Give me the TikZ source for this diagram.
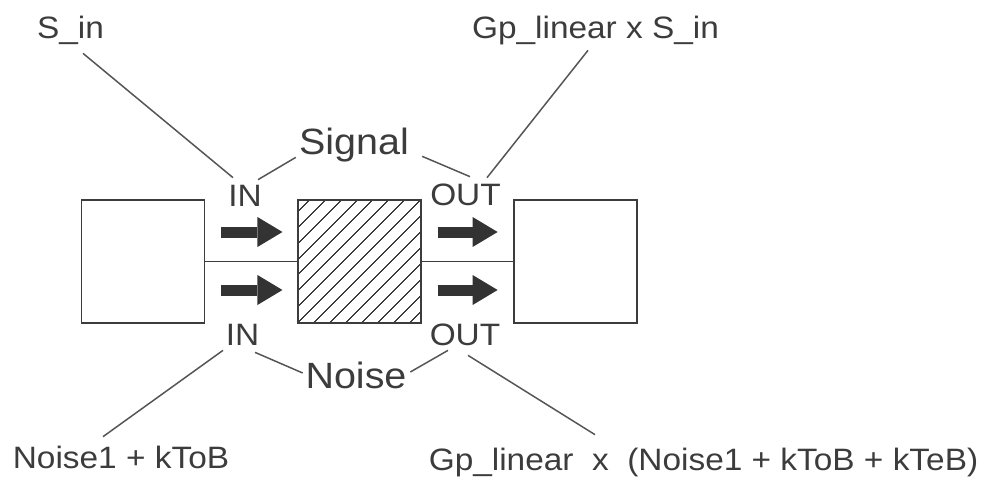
\documentclass[tikz,border=0pt]{standalone}
\usepackage{fontspec}
\setmainfont{Liberation Sans}[FakeStretch=1.08]
\usetikzlibrary{positioning, arrows.meta, calc, patterns.meta}
\definecolor{inkgray}{HTML}{3C3C3C}
\definecolor{linegray}{HTML}{555555}
\definecolor{arrowgray}{HTML}{333333}

\begin{document}
\begin{tikzpicture}[
		x=0.02cm, y=-0.02cm,
		plainbox/.style={rectangle, draw=inkgray, line width=1.1pt, minimum size=2.46cm, inner sep=0pt},
		hatchbox/.style={plainbox, pattern={Lines[angle=45, distance=6.4pt, line width=0.7pt]}, pattern color=inkgray},
		flow/.style={line width=0.22cm, draw=arrowgray, -{Triangle[length=0.5cm, width=0.6cm, line width=0pt]}},
		port/.style={font=\fontsize{17.6}{20}\selectfont, text=inkgray, inner sep=0pt, anchor=base,
			text height=0.44cm, text depth=0.1cm},
		kind/.style={port, font=\fontsize{20.8}{24}\selectfont, text height=0.52cm, text depth=0.18cm},
		lead/.style={draw=linegray, line width=0.85pt},
		link/.style={draw=inkgray, line width=1.1pt},
		]
		\useasboundingbox (0,0) rectangle (986,478);
		
		% Blocks: source, device, load
		\node[plainbox] (lbox) at (143,261.5) {};
		\node[hatchbox, right=1.84cm of lbox] (mbox) {};
		\node[plainbox, right=1.82cm of mbox] (rbox) {};
		
		\draw[link] (lbox.east) -- (mbox.west);
		\draw[link] (mbox.east) -- (rbox.west);
		
		% Flow arrows above and below the wires
		\draw[flow] ($(lbox.east)+(16,-29.5)$) -- ($(mbox.west)+(-15,-29.5)$);
		\draw[flow] ($(lbox.east)+(16,28.5)$)  -- ($(mbox.west)+(-15,28.5)$);
		\draw[flow] ($(mbox.east)+(16,-29.5)$) -- ($(rbox.west)+(-15,-29.5)$);
		\draw[flow] ($(mbox.east)+(16,28.5)$)  -- ($(rbox.west)+(-15,28.5)$);
		
		% Signal side (top)
		\node[port] (sin) at (70.5,38) {S\_in};
		\node[port] (gps) at (595.5,38) {Gp\_linear x S\_in};
		\node[kind] (signal) at (354,154) {Signal};
		\node[port] (inT) at (245,206) {IN};
		\node[port] (outT) at (465.5,205) {OUT};
		
		\draw[lead] ($(sin.south)+(12.5,10)$) -- ($(inT.north)+(-12,-6)$);
		\draw[lead] ($(signal.south west)+(-3,-6)$) -- ($(inT.north)+(13,-4)$);
		\draw[lead] ($(signal.south east)+(13,-7)$) -- ($(outT.north)+(4.5,-6)$);
		\draw[lead] ($(gps.south)+(-7.5,7)$) -- ($(outT.north)+(21.5,-5)$);
		
		% Noise side (bottom)
		\node[port] (inB) at (242.5,345) {IN};
		\node[port] (outB) at (465,345) {OUT};
		\node[kind] (noise) at (356,388) {Noise};
		\node[port] (nk) at (121,468) {Noise1 + kToB};
		\node[port] (gpn) at (703.5,470) {Gp\_linear\ \ x\ \ (Noise1 + kToB + kTeB)};
		
		\draw[lead] ($(inB.south)+(-19.5,0)$) -- ($(nk.north)+(-18,-9)$);
		\draw[lead] ($(inB.south)+(12.5,2)$) -- ($(noise.west)+(-2.5,-6.5)$);
		\draw[lead] ($(noise.east)+(3.5,-7.5)$) -- ($(outB.south)+(-17,0)$);
		\draw[lead] ($(outB.south)+(3,5)$) -- ($(gpn.north)+(-108.5,-13)$);
	\end{tikzpicture}
\end{document}
